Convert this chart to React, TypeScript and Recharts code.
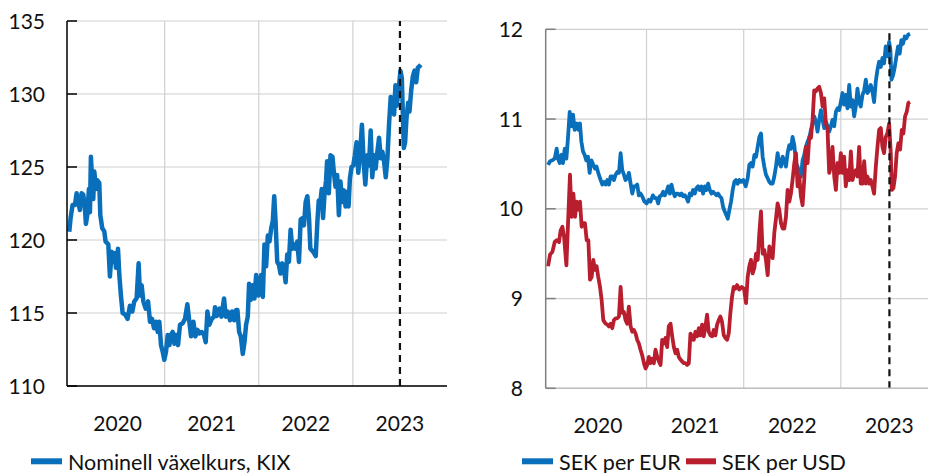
import React from 'react';
import { LineChart, Line, XAxis, YAxis, CartesianGrid, ReferenceLine } from 'recharts';

const FONT = 'Lato, "Open Sans", sans-serif';
const BLUE = '#0a6fba';
const RED = '#b81e2d';
const GRID = '#d0d0d0';

const yearLabels = [2020, 2021, 2022, 2023];
const gridYears = [2021, 2022, 2023];
const xDomain: [number, number] = [2019.962, 2024];
const forecastStart = 2023.5;
const kixTicks = [110, 115, 120, 125, 130, 135];
const sekTicks = [8, 9, 10, 11, 12];

const kixLabel = 'Nominell växelkurs, KIX';
const eurLabel = 'SEK per EUR';
const usdLabel = 'SEK per USD';

const kixDates = [
  2019.986, 2020.0, 2020.021, 2020.046, 2020.064, 2020.082, 2020.099, 2020.117, 2020.135, 2020.152,
  2020.163, 2020.177, 2020.195, 2020.206, 2020.216, 2020.23, 2020.241, 2020.252, 2020.27, 2020.284,
  2020.305, 2020.316, 2020.337, 2020.358, 2020.372, 2020.401, 2020.418, 2020.436, 2020.454, 2020.472,
  2020.482, 2020.504, 2020.518, 2020.535, 2020.553, 2020.578, 2020.606, 2020.631, 2020.656, 2020.677,
  2020.702, 2020.723, 2020.738, 2020.755, 2020.773, 2020.798, 2020.823, 2020.844, 2020.865, 2020.887,
  2020.908, 2020.926, 2020.943, 2020.961, 2020.979, 2020.996, 2021.014, 2021.032, 2021.05, 2021.067,
  2021.085, 2021.103, 2021.121, 2021.142, 2021.163, 2021.191, 2021.216, 2021.241, 2021.262, 2021.28,
  2021.305, 2021.326, 2021.348, 2021.369, 2021.394, 2021.418, 2021.436, 2021.454, 2021.475, 2021.5,
  2021.525, 2021.535, 2021.553, 2021.582, 2021.603, 2021.631, 2021.649, 2021.67, 2021.695, 2021.716,
  2021.738, 2021.759, 2021.773, 2021.791, 2021.809, 2021.83, 2021.848, 2021.865, 2021.883, 2021.897,
  2021.915, 2021.936, 2021.954, 2021.972, 2021.996,
  2022.007, 2022.025, 2022.043, 2022.06, 2022.078, 2022.096, 2022.114, 2022.132, 2022.149, 2022.164,
  2022.178, 2022.196, 2022.214, 2022.231, 2022.249, 2022.267, 2022.285, 2022.302, 2022.32, 2022.338,
  2022.356, 2022.374, 2022.391, 2022.409, 2022.427, 2022.445, 2022.463, 2022.48, 2022.498, 2022.516,
  2022.534, 2022.548, 2022.577, 2022.605, 2022.623, 2022.637, 2022.655, 2022.669, 2022.683, 2022.698,
  2022.715, 2022.726, 2022.744, 2022.762, 2022.783, 2022.797, 2022.815, 2022.833, 2022.851, 2022.868,
  2022.886, 2022.904, 2022.922, 2022.94, 2022.954, 2022.968, 2022.986, 2023.004, 2023.021, 2023.039,
  2023.057, 2023.075, 2023.096, 2023.114, 2023.132, 2023.153, 2023.171, 2023.189, 2023.206, 2023.224,
  2023.242, 2023.26, 2023.278, 2023.295, 2023.313, 2023.331, 2023.349, 2023.367, 2023.384, 2023.402,
  2023.42, 2023.438, 2023.452, 2023.466, 2023.488, 2023.505, 2023.52, 2023.53, 2023.541, 2023.555,
  2023.569, 2023.587, 2023.601, 2023.619, 2023.637, 2023.655, 2023.673, 2023.69, 2023.708, 2023.722,
];
const kixValues = [
  120.57, 121.5, 122.4, 122.4, 123.2, 122.6, 122.05, 123.2, 123.1, 122.2,
  121.1, 121.7, 123.5, 121.9, 125.7, 124.0, 122.8, 124.7, 123.5, 124.1,
  123.9, 121.7, 120.8, 120.6, 119.9, 119.7, 117.5, 119.2, 118.5, 119.1,
  118.1, 119.4, 117.6, 116.2, 115.0, 114.9, 114.6, 115.5, 115.1, 115.8,
  116.0, 118.4, 116.2, 116.9, 115.8, 115.3, 115.8, 114.4, 114.6, 113.95,
  114.4, 113.7, 114.4, 112.8, 112.35, 111.8, 112.35, 113.5, 112.8, 113.5,
  113.7, 112.9, 113.5, 112.8, 114.2, 114.3, 114.6, 115.6, 114.4, 113.4,
  114.4, 113.4, 113.85, 113.6, 113.7, 113.5, 113.0, 115.1, 114.2, 114.6,
  114.75, 115.4, 114.8, 115.3, 114.75, 116.0, 114.75, 115.1, 114.5, 115.1,
  114.5, 115.2, 115.2, 113.7, 113.4, 112.2, 113.0, 114.2, 114.75, 117.0,
  115.9, 116.9, 116.0, 117.6, 116.2,
  116.9, 117.6, 116.1, 119.7, 118.2, 120.3, 119.9, 120.8, 121.3, 123.0,
  121.3, 118.5, 118.3, 117.7, 118.4, 118.1, 117.1, 119.0, 118.5, 120.7,
  119.4, 119.7, 119.4, 119.9, 118.5, 121.4, 121.5, 121.0, 122.6, 123.0,
  121.5, 119.4, 119.2, 118.9, 121.3, 122.7, 122.6, 123.5, 121.5, 123.1,
  124.1, 125.4, 123.2, 125.8, 125.7, 124.7, 123.65, 124.45, 121.7, 124.0,
  122.6, 123.4, 122.3, 123.3, 122.3, 124.2, 125.0, 125.1, 125.8, 126.7,
  124.6, 125.8, 127.9, 125.4, 123.8, 125.8, 125.1, 127.5, 124.3, 125.8,
  124.9, 126.05, 127.0, 125.6, 126.05, 125.4, 124.3, 125.6, 127.9, 129.8,
  129.7, 128.6, 130.6, 129.2, 130.4, 131.6, 131.1, 128.8, 126.3, 126.7,
  128.3, 129.4, 128.8, 130.2, 131.2, 131.6, 130.8, 131.8, 131.9, 132.0,
];

const eurDates = [
  2019.986, 2020.007, 2020.031, 2020.055, 2020.075, 2020.089, 2020.106, 2020.123, 2020.14, 2020.158,
  2020.175, 2020.192, 2020.209, 2020.226, 2020.243, 2020.26, 2020.281, 2020.298, 2020.315, 2020.329,
  2020.346, 2020.363, 2020.38, 2020.397, 2020.414, 2020.432, 2020.452, 2020.469, 2020.486, 2020.503,
  2020.521, 2020.545, 2020.562, 2020.579, 2020.596, 2020.613, 2020.63, 2020.647, 2020.664, 2020.682,
  2020.699, 2020.716, 2020.733, 2020.75, 2020.767, 2020.784, 2020.801, 2020.818, 2020.836, 2020.853,
  2020.87, 2020.887, 2020.904, 2020.921, 2020.938, 2020.955, 2020.979, 2021.0, 2021.024, 2021.041,
  2021.065, 2021.086, 2021.103, 2021.12, 2021.137, 2021.154, 2021.171, 2021.188, 2021.205, 2021.223,
  2021.24, 2021.257, 2021.274, 2021.291, 2021.308, 2021.325, 2021.342, 2021.36, 2021.377, 2021.394,
  2021.411, 2021.428, 2021.445, 2021.462, 2021.479, 2021.497, 2021.514, 2021.531, 2021.548, 2021.565,
  2021.582, 2021.599, 2021.616, 2021.634, 2021.651, 2021.668, 2021.685, 2021.702, 2021.719, 2021.736,
  2021.753, 2021.771, 2021.788, 2021.805, 2021.822, 2021.836, 2021.853, 2021.87, 2021.887, 2021.904,
  2021.921, 2021.938, 2021.955,
  2021.973, 2021.997, 2022.021, 2022.041, 2022.058, 2022.075, 2022.092, 2022.11, 2022.127, 2022.144,
  2022.161, 2022.178, 2022.195, 2022.212, 2022.229, 2022.247, 2022.264, 2022.281, 2022.298, 2022.315,
  2022.332, 2022.349, 2022.366, 2022.384, 2022.401, 2022.418, 2022.435, 2022.452, 2022.469, 2022.486,
  2022.503, 2022.521, 2022.538, 2022.555, 2022.572, 2022.589, 2022.606, 2022.623, 2022.64, 2022.658,
  2022.675, 2022.692, 2022.709, 2022.726, 2022.743, 2022.76, 2022.777, 2022.795, 2022.812, 2022.829,
  2022.846, 2022.863, 2022.88, 2022.897, 2022.914, 2022.932, 2022.949, 2022.966, 2022.983, 2023.0,
  2023.017, 2023.034, 2023.051, 2023.068, 2023.086, 2023.103, 2023.12, 2023.137, 2023.154, 2023.171,
  2023.188, 2023.205, 2023.223, 2023.24, 2023.257, 2023.274, 2023.291, 2023.308, 2023.325, 2023.342,
  2023.36, 2023.377, 2023.394, 2023.411, 2023.428, 2023.445, 2023.462, 2023.479, 2023.497, 2023.51,
  2023.521, 2023.538, 2023.555, 2023.572, 2023.589, 2023.606, 2023.623, 2023.64, 2023.658, 2023.675,
  2023.692, 2023.712,
];
const eurValues = [
  10.49, 10.53, 10.54, 10.56, 10.67, 10.56, 10.51, 10.6, 10.51, 10.67,
  10.56, 10.8, 11.08, 10.92, 11.05, 10.88, 10.95, 10.88, 10.95, 10.75,
  10.64, 10.6, 10.54, 10.58, 10.4, 10.54, 10.49, 10.45, 10.47, 10.4,
  10.34, 10.27, 10.3, 10.27, 10.32, 10.27, 10.36, 10.36, 10.32, 10.38,
  10.41, 10.4, 10.62, 10.43, 10.38, 10.32, 10.34, 10.4, 10.28, 10.17,
  10.25, 10.25, 10.27, 10.15, 10.17, 10.14, 10.08, 10.06, 10.1, 10.08,
  10.15, 10.12, 10.12, 10.06, 10.14, 10.15, 10.19, 10.15, 10.19, 10.25,
  10.17, 10.27, 10.19, 10.14, 10.17, 10.17, 10.15, 10.17, 10.14, 10.15,
  10.12, 10.08, 10.17, 10.15, 10.21, 10.17, 10.23, 10.25, 10.21, 10.25,
  10.17, 10.25, 10.21, 10.28, 10.21, 10.17, 10.19, 10.17, 10.15, 10.17,
  10.14, 10.12, 10.02, 9.97, 9.93, 9.89, 9.99, 10.08, 10.21, 10.3,
  10.32, 10.28, 10.32,
  10.3, 10.32, 10.25, 10.34, 10.49, 10.51, 10.47, 10.6, 10.58, 10.69,
  10.8, 10.84, 10.58, 10.47, 10.38, 10.34, 10.3, 10.28, 10.28, 10.36,
  10.47, 10.62, 10.51, 10.47, 10.58, 10.53, 10.47, 10.62, 10.71, 10.67,
  10.8, 10.71, 10.51, 10.47, 10.38, 10.36, 10.54, 10.6, 10.69, 10.75,
  10.79, 10.88, 10.95, 11.03, 10.97, 10.86, 10.99, 11.1, 10.99, 10.9,
  10.97, 10.92, 10.86, 10.92, 10.99, 10.92, 11.08, 11.12, 11.1, 11.19,
  11.29, 11.16, 11.27, 11.12, 11.38, 11.14, 11.21, 11.03, 11.14, 11.34,
  11.19, 11.14, 11.27, 11.32, 11.44, 11.29, 11.32, 11.38, 11.31, 11.19,
  11.42, 11.55, 11.64, 11.58, 11.68, 11.62, 11.81, 11.7, 11.86, 11.77,
  11.44, 11.49, 11.58, 11.7, 11.81, 11.73, 11.88, 11.84, 11.92, 11.9,
  11.94, 11.95,
];

const usdDates = [
  2019.986, 2020.007, 2020.031, 2020.055, 2020.075, 2020.099, 2020.116, 2020.134, 2020.151, 2020.175,
  2020.192, 2020.212, 2020.229, 2020.247, 2020.264, 2020.281, 2020.298, 2020.315, 2020.332, 2020.349,
  2020.366, 2020.384, 2020.401, 2020.418, 2020.435, 2020.452, 2020.469, 2020.486, 2020.503, 2020.521,
  2020.538, 2020.555, 2020.579, 2020.596, 2020.613, 2020.63, 2020.647, 2020.664, 2020.682, 2020.699,
  2020.716, 2020.733, 2020.75, 2020.767, 2020.784, 2020.801, 2020.818, 2020.836, 2020.853, 2020.87,
  2020.887, 2020.904, 2020.921, 2020.938, 2020.955, 2020.973, 2020.99, 2021.007, 2021.024, 2021.041,
  2021.058, 2021.075, 2021.092, 2021.11, 2021.127, 2021.144, 2021.161, 2021.178, 2021.195, 2021.212,
  2021.229, 2021.247, 2021.264, 2021.281, 2021.298, 2021.315, 2021.332, 2021.349, 2021.366, 2021.384,
  2021.401, 2021.418, 2021.435, 2021.452, 2021.469, 2021.486, 2021.503, 2021.521, 2021.538, 2021.555,
  2021.572, 2021.589, 2021.606, 2021.623, 2021.64, 2021.658, 2021.675, 2021.692, 2021.709, 2021.726,
  2021.743, 2021.76, 2021.777, 2021.795, 2021.812, 2021.829, 2021.846, 2021.863, 2021.88, 2021.897,
  2021.914, 2021.932, 2021.955,
  2021.979, 2022.003, 2022.024, 2022.041, 2022.058, 2022.075, 2022.092, 2022.11, 2022.127, 2022.144,
  2022.161, 2022.178, 2022.195, 2022.212, 2022.229, 2022.247, 2022.264, 2022.281, 2022.298, 2022.315,
  2022.332, 2022.349, 2022.366, 2022.384, 2022.401, 2022.418, 2022.435, 2022.452, 2022.469, 2022.486,
  2022.503, 2022.521, 2022.538, 2022.555, 2022.572, 2022.589, 2022.606, 2022.623, 2022.64, 2022.658,
  2022.675, 2022.692, 2022.709, 2022.726, 2022.743, 2022.76, 2022.777, 2022.795, 2022.812, 2022.829,
  2022.846, 2022.863, 2022.88, 2022.897, 2022.914, 2022.932, 2022.949, 2022.966, 2022.983, 2023.0,
  2023.017, 2023.034, 2023.051, 2023.068, 2023.086, 2023.103, 2023.12, 2023.137, 2023.154, 2023.171,
  2023.188, 2023.205, 2023.223, 2023.24, 2023.257, 2023.274, 2023.291, 2023.308, 2023.325, 2023.342,
  2023.36, 2023.377, 2023.394, 2023.411, 2023.428, 2023.445, 2023.462, 2023.479, 2023.497, 2023.514,
  2023.524, 2023.541, 2023.558, 2023.575, 2023.592, 2023.61, 2023.627, 2023.644, 2023.661, 2023.678,
  2023.695, 2023.712,
];
const usdValues = [
  9.36, 9.49, 9.52, 9.63, 9.65, 9.63, 9.76, 9.8, 9.69, 9.37,
  9.84, 10.38, 9.91, 10.17, 9.91, 10.08, 9.99, 10.08, 9.8, 9.84,
  9.84, 9.65, 9.65, 9.21, 9.24, 9.43, 9.32, 9.36, 9.24, 9.13,
  8.98, 8.76, 8.72, 8.71, 8.69, 8.72, 8.67, 8.76, 8.78, 8.78,
  8.8, 9.13, 8.84, 8.85, 8.76, 8.72, 8.91, 8.69, 8.63, 8.65,
  8.61, 8.54, 8.5, 8.43, 8.37, 8.28, 8.22, 8.26, 8.35, 8.28,
  8.33, 8.28, 8.43, 8.35, 8.3, 8.26, 8.54, 8.5, 8.56, 8.46,
  8.69, 8.72, 8.58, 8.46, 8.39, 8.43, 8.35, 8.32, 8.3, 8.28,
  8.28, 8.26, 8.28, 8.61, 8.58, 8.54, 8.63, 8.58, 8.67, 8.59,
  8.71, 8.58, 8.69, 8.82, 8.63, 8.59, 8.58, 8.65, 8.59, 8.71,
  8.76, 8.8, 8.74, 8.59, 8.56, 8.54, 8.61, 8.84, 9.02, 9.13,
  9.11, 9.15, 9.1,
  9.13, 9.11, 8.95, 9.24, 9.36, 9.43, 9.28, 9.34, 9.5, 9.43,
  9.73, 9.97, 9.5, 9.54, 9.43, 9.26, 9.58, 9.5, 9.45, 9.73,
  9.89, 10.06, 9.99, 9.84, 9.78, 9.78, 9.91, 10.21, 10.08, 10.17,
  10.32, 10.51, 10.62, 10.25, 10.36, 10.14, 10.04, 10.32, 10.69, 10.51,
  10.8, 10.79, 10.99, 11.32, 11.31, 11.34, 11.36, 11.29, 11.14, 11.23,
  10.95, 10.88, 10.4, 10.47, 10.69, 10.36, 10.21, 10.51, 10.4, 10.62,
  10.4, 10.58, 10.25, 10.43, 10.32, 10.64, 10.32, 10.4, 10.43, 10.36,
  10.69, 10.28, 10.28, 10.53, 10.28, 10.36, 10.28, 10.32, 10.25, 10.17,
  10.47, 10.69, 10.88, 10.9, 10.69, 10.62, 10.8, 10.84, 10.95, 10.62,
  10.21, 10.23, 10.36, 10.62, 10.73, 10.66, 10.88, 10.84, 11.03, 11.08,
  11.18, 11.19,
];

const kixData = kixDates.map((t, i) => ({ t, kix: kixValues[i] }));

const sekData = (() => {
  const rows = new Map<number, { t: number; eur?: number; usd?: number }>();
  eurDates.forEach((t, i) => {
    const r = rows.get(t) || { t };
    r.eur = eurValues[i];
    rows.set(t, r);
  });
  usdDates.forEach((t, i) => {
    const r = rows.get(t) || { t };
    r.usd = usdValues[i];
    rows.set(t, r);
  });
  return Array.from(rows.values()).sort((a, b) => a.t - b.t);
})();

const labelTicks = yearLabels.map((y) => y + 0.5);

const TICK_FS = 21;
const LEGEND_FS = 21.5;

const XTick = (props: any) => {
  const { x, y, payload } = props;
  return (
    <text x={x} y={y + 44.5} textAnchor="middle" fontFamily={FONT} fontSize={TICK_FS} fill="#111">
      {Math.floor(payload.value)}
    </text>
  );
};

const makeLeftTick = (color: string, labelGap: number) => (props: any) => {
  const { x, y, payload } = props;
  return (
    <g>
      <line x1={x} x2={x + 10} y1={y} y2={y} stroke={color} strokeWidth={1.5} />
      <text x={x - labelGap} y={y + 7.5} textAnchor="end" fontFamily={FONT} fontSize={TICK_FS} fill="#111">
        {payload.value}
      </text>
    </g>
  );
};

const RightTick = (props: any) => {
  const { x, y } = props;
  return <line x1={x - 10} x2={x} y1={y} y2={y} stroke="#000" strokeWidth={1.5} />;
};

const KixTick = makeLeftTick('#000', 22);
const SekTick = makeLeftTick('#7f7f7f', 22.7);

export default function App() {
  return (
    <div style={{ position: 'absolute', left: 0, top: 0, width: 928, height: 473, overflow: 'hidden', background: '#fff' }}>
      <div style={{ position: 'absolute', left: 0, top: 0 }}>
        <LineChart width={460} height={473} data={kixData} margin={{ top: 21, right: 13, bottom: 0, left: 0 }}>
          <CartesianGrid yAxisId="l" stroke={GRID} strokeWidth={1.2} verticalValues={gridYears} />
          <XAxis
            dataKey="t"
            type="number"
            domain={xDomain}
            allowDataOverflow
            ticks={labelTicks}
            interval={0}
            tick={<XTick />}
            tickLine={false}
            tickSize={0}
            tickMargin={0}
            height={87}
            axisLine={{ stroke: '#000', strokeWidth: 1.5 }}
          />
          <YAxis
            yAxisId="l"
            domain={[110, 135]}
            ticks={kixTicks}
            interval={0}
            width={67}
            tick={<KixTick />}
            tickLine={false}
            tickSize={0}
            tickMargin={0}
            axisLine={{ stroke: '#000', strokeWidth: 1.5 }}
          />
          <YAxis
            yAxisId="r"
            orientation="right"
            domain={[110, 135]}
            ticks={kixTicks}
            interval={0}
            width={0}
            tick={<RightTick />}
            tickLine={false}
            tickSize={0}
            tickMargin={0}
            axisLine={{ stroke: '#000', strokeWidth: 1.5 }}
          />
          <Line
            yAxisId="l"
            dataKey="kix"
            type="linear"
            stroke={BLUE}
            strokeWidth={4.5}
            dot={false}
            strokeLinejoin="round"
            isAnimationActive={false}
          />
          <ReferenceLine yAxisId="l" x={forecastStart} stroke="#111" strokeWidth={2.2} strokeDasharray="7 5" />
        </LineChart>
      </div>
      <div style={{ position: 'absolute', left: 460, top: 0 }}>
        <LineChart width={478} height={473} data={sekData} margin={{ top: 29.3, right: 0, bottom: 0, left: 0 }}>
          <CartesianGrid stroke={GRID} strokeWidth={1.2} verticalValues={gridYears} />
          <XAxis
            dataKey="t"
            type="number"
            domain={xDomain}
            allowDataOverflow
            ticks={labelTicks}
            interval={0}
            tick={<XTick />}
            tickLine={false}
            tickSize={0}
            tickMargin={0}
            height={84.7}
            axisLine={{ stroke: '#bfbfbf', strokeWidth: 1.5 }}
          />
          <YAxis
            domain={[8, 12]}
            ticks={sekTicks}
            interval={0}
            width={85.7}
            tick={<SekTick />}
            tickLine={false}
            tickSize={0}
            tickMargin={0}
            axisLine={{ stroke: '#7f7f7f', strokeWidth: 1.5 }}
          />
          <Line
            dataKey="eur"
            type="linear"
            stroke={BLUE}
            strokeWidth={3.8}
            dot={false}
            connectNulls
            strokeLinejoin="round"
            isAnimationActive={false}
          />
          <Line
            dataKey="usd"
            type="linear"
            stroke={RED}
            strokeWidth={3.8}
            dot={false}
            connectNulls
            strokeLinejoin="round"
            isAnimationActive={false}
          />
          <ReferenceLine x={forecastStart} stroke="#111" strokeWidth={2.2} strokeDasharray="7 5" />
        </LineChart>
      </div>
      <svg width={928} height={473} style={{ position: 'absolute', left: 0, top: 0, pointerEvents: 'none' }}>
        <line x1={31} x2={62} y1={461.3} y2={461.3} stroke={BLUE} strokeWidth={6} />
        <text x={68} y={469.5} fontFamily={FONT} fontSize={LEGEND_FS} fill="#111">{kixLabel}</text>
        <line x1={522} x2={553} y1={461.3} y2={461.3} stroke={BLUE} strokeWidth={6} />
        <text x={559} y={469.5} fontFamily={FONT} fontSize={LEGEND_FS} fill="#111">{eurLabel}</text>
        <line x1={686} x2={716} y1={461.3} y2={461.3} stroke={RED} strokeWidth={6} />
        <text x={722} y={469.5} fontFamily={FONT} fontSize={LEGEND_FS} fill="#111">{usdLabel}</text>
      </svg>
    </div>
  );
}
